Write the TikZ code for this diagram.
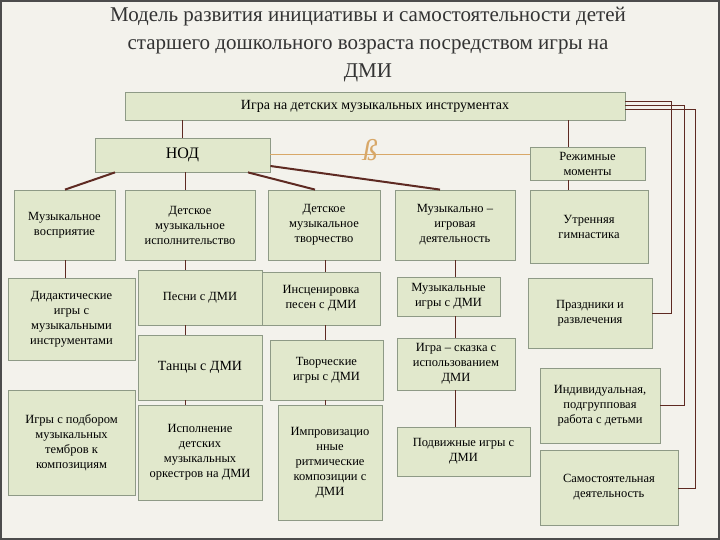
\documentclass[tikz,border=0pt]{standalone}
\usepackage{fontspec}
\setmainfont{Liberation Serif}
\begin{document}
\begin{tikzpicture}[x=1pt,y=-1pt,
  bx/.style={draw=boxline,fill=boxfill,line width=0.8pt,align=center,font=\fontsize{12.5}{15}\selectfont,inner sep=2pt},
  ln/.style={draw=brn,line width=1pt},
  dg/.style={draw=brn,line width=2pt}]
\definecolor{boxfill}{HTML}{E1E8CC}
\definecolor{boxline}{HTML}{8E9A86}
\definecolor{brn}{HTML}{5E2A22}
\definecolor{tan}{HTML}{D8A868}
\definecolor{bg}{HTML}{F3F2EC}
\fill[bg] (0,0) rectangle (720,540);
\draw[line width=1.5pt,black!70] (1,1) rectangle (719,539);
\useasboundingbox (0,0) rectangle (720,540);
\node[font=\fontsize{21}{28}\selectfont,text=black!80,align=center] (title) at (368,45) {Модель развития инициативы и самостоятельности детей\\старшего дошкольного возраста посредством игры на\\ДМИ};
\newcommand{\bxn}[6]{\node[bx,minimum width=#3-#2,minimum height=#5-#4] (#1) at ({(#2+#3)/2},{(#4+#5)/2}) {#6};}
\bxn{top}{125}{625}{92}{120}{\fontsize{14}{16}\selectfont Игра на детских музыкальных инструментах}
\bxn{nod}{95}{270}{138}{172}{\fontsize{16}{18}\selectfont НОД}
\bxn{rezh}{530}{645}{147}{180}{Режимные\\моменты}
\bxn{a1}{14}{115}{190}{260}{Музыкальное\\восприятие}
\bxn{b1}{125}{255}{190}{260}{Детское\\музыкальное\\исполнительство}
\bxn{c1}{268}{380}{190}{260}{Детское\\музыкальное\\творчество}
\bxn{d1}{395}{515}{190}{260}{Музыкально –\\игровая\\деятельность}
\bxn{e1}{530}{648}{190}{263}{Утренняя\\гимнастика}
\bxn{a2}{8}{135}{278}{360}{Дидактические\\игры с\\музыкальными\\инструментами}
\bxn{b2}{138}{262}{270}{325}{Песни с ДМИ}
\bxn{c2}{262}{380}{272}{325}{Инсценировка\\песен с ДМИ}
\bxn{d2}{397}{500}{277}{316}{Музыкальные\\игры с ДМИ}
\bxn{e2}{528}{652}{278}{348}{Праздники и\\развлечения}
\bxn{b3}{138}{262}{335}{400}{\fontsize{14}{16}\selectfont Танцы с ДМИ}
\bxn{c3}{270}{383}{340}{400}{Творческие\\игры с ДМИ}
\bxn{d3}{397}{515}{338}{390}{Игра – сказка с\\использованием\\ДМИ}
\bxn{e3}{540}{660}{368}{443}{Индивидуальная,\\подгрупповая\\работа с детьми}
\bxn{a4}{8}{135}{390}{495}{Игры с подбором\\музыкальных\\тембров к\\композициям}
\bxn{b4}{138}{262}{405}{500}{Исполнение\\детских\\музыкальных\\оркестров на ДМИ}
\bxn{c4}{278}{382}{405}{520}{Импровизацио\\нные\\ритмические\\композиции с\\ДМИ}
\bxn{d4}{397}{530}{427}{476}{Подвижные игры с\\ДМИ}
\bxn{e4}{540}{678}{450}{525}{Самостоятельная\\деятельность}
% connectors
\draw[ln] (top.south -| 182,0) -- (nod.north -| 182,0);
\draw[ln] (top.south -| 568,0) -- (rezh.north -| 568,0);
\draw[tan,line width=1pt] (nod.east |- 0,155) -- (rezh.west |- 0,155);
\node[text=tan,font=\fontsize{30}{30}\selectfont\itshape] (orn) at (370,150) {ß};
\draw[dg] (nod.south -| 115,0) -- (a1.north -| 65,0);
\draw[ln] (nod.south -| 185,0) -- (b1.north -| 185,0);
\draw[dg] (nod.south -| 248,0) -- (c1.north -| 315,0);
\draw[dg] (nod.east |- 0,166) -- (d1.north -| 440,0);
\draw[ln] (rezh.south -| 568,0) -- (e1.north -| 568,0);
\draw[ln] (a1.south -| 65,0) -- (a2.north -| 65,0);
\draw[ln] (b1.south -| 185,0) -- (b2.north -| 185,0);
\draw[ln] (b2.south -| 185,0) -- (b3.north -| 185,0);
\draw[ln] (b3.south -| 185,0) -- (b4.north -| 185,0);
\draw[ln] (c1.south -| 325,0) -- (c2.north -| 325,0);
\draw[ln] (c2.south -| 325,0) -- (c3.north -| 325,0);
\draw[ln] (c3.south -| 325,0) -- (c4.north -| 325,0);
\draw[ln] (d1.south -| 455,0) -- (d2.north -| 455,0);
\draw[ln] (d2.south -| 455,0) -- (d3.north -| 455,0);
\draw[ln] (d3.south -| 455,0) -- (d4.north -| 455,0);
\draw[ln] (top.east |- 0,102) -- (671,102) -- (671,313) -- (e2.east |- 0,313);
\draw[ln] (top.east |- 0,106) -- (684,106) -- (684,405) -- (e3.east |- 0,405);
\draw[ln] (top.east |- 0,110) -- (695,110) -- (695,488) -- (e4.east |- 0,488);
\end{tikzpicture}
\end{document}
